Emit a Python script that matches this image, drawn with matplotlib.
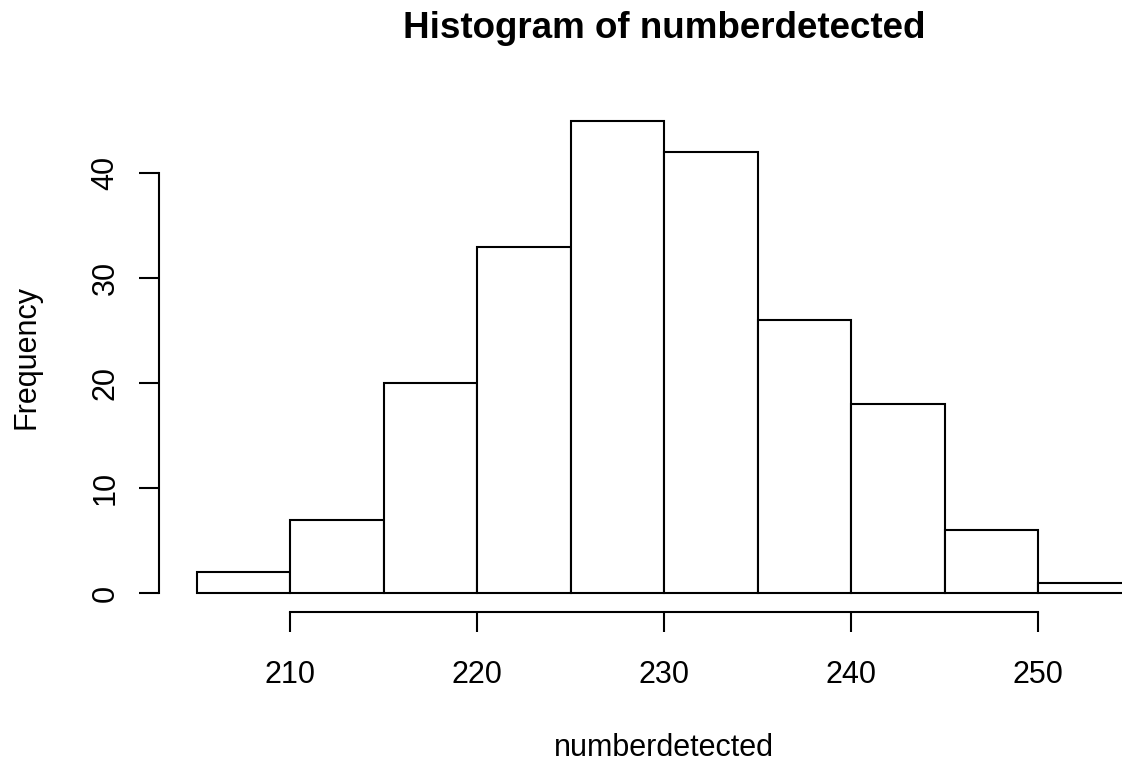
import matplotlib
matplotlib.use("Agg")
import matplotlib.pyplot as plt
import numpy as np

# histogram of numberdetected (R-style base graphics look)
breaks = np.arange(205, 260, 5)
counts = [2, 7, 20, 33, 45, 42, 26, 18, 6, 1]
xticks = [210, 220, 230, 240, 250]
yticks = [0, 10, 20, 30, 40]

plt.rcParams['font.family'] = ['Liberation Sans', 'DejaVu Sans']

W, H = 1122, 763
fig = plt.figure(figsize=(W / 100, H / 100), dpi=100)
fig.set_facecolor("white")

# plot region in pixels (R: xlim/ylim extended by 4%)
px_left, px_right, px_top, px_bottom = 159.1, 1168.9, 101.6, 612.0
ax = fig.add_axes([px_left / W, (H - px_bottom) / H,
                   (px_right - px_left) / W, (px_bottom - px_top) / H])

lw = 1.5
ax.bar(breaks[:-1], counts, width=np.diff(breaks), align="edge",
       facecolor="white", edgecolor="black", linewidth=lw)

rng_x = breaks[-1] - breaks[0]
ax.set_xlim(breaks[0] - 0.04 * rng_x, breaks[-1] + 0.04 * rng_x)
ymax = max(counts)
ax.set_ylim(-0.04 * ymax, ymax + 0.04 * ymax)

for s in ["top", "right"]:
    ax.spines[s].set_visible(False)
ax.spines["left"].set_bounds(yticks[0], yticks[-1])
ax.spines["bottom"].set_bounds(xticks[0], xticks[-1])
for s in ["left", "bottom"]:
    ax.spines[s].set_linewidth(lw)
ax.patch.set_visible(False)

ax.set_xticks(xticks)
ax.set_yticks(yticks)
ax.set_xticklabels([str(v) for v in xticks])
ax.set_yticklabels([str(v) for v in yticks], rotation=90, va="center")
ax.tick_params(axis="x", length=14.4, width=lw, labelsize=22, pad=20)
ax.tick_params(axis="y", length=14.4, width=lw, labelsize=22, pad=13.3)

cx = (px_left + px_right) / 2 / W
fig.text(cx, 1 - 37.5 / H, "Histogram of numberdetected", ha="center",
         va="baseline", fontsize=26.5, fontweight="bold")
fig.text(cx, 1 - 756.5 / H, "numberdetected", ha="center", va="baseline",
         fontsize=22)
fig.text(35 / W, 1 - 357 / H, "Frequency", rotation=90, rotation_mode="anchor",
         ha="center", va="baseline", fontsize=22)

fig.savefig("out.png", dpi=100)
